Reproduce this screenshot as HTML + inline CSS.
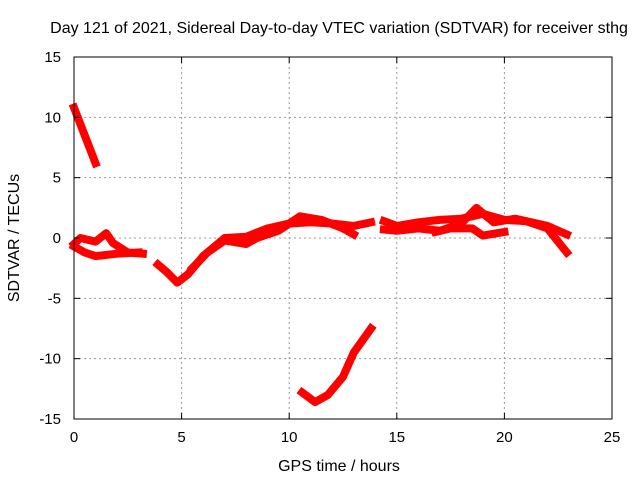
<!DOCTYPE html>
<html><head><meta charset="utf-8"><style>
body{margin:0;background:#fff}
svg{display:block;font-family:"Liberation Sans",sans-serif}
</style></head><body>
<svg id="chart" width="640" height="480">
<rect width="640" height="480" fill="#fff"/>
<text x="339" y="33" font-size="16" text-anchor="middle">Day 121 of 2021, Sidereal Day-to-day VTEC variation (SDTVAR) for receiver sthg</text>
<g id="grid"></g><g id="series"></g><g id="axes"></g>
<text x="339" y="471" font-size="16" text-anchor="middle">GPS time / hours</text>
<text transform="translate(19,238) rotate(-90)" font-size="16" text-anchor="middle">SDTVAR / TECUs</text>
</svg>
<script>
const xTicks=[0,5,10,15,20,25];
const yTicks=[15,10,5,0,-5,-10,-15];
const trackA=[[0,10.8],[0.5,8.5],[1.0,6.2]];
const trackB=[[0,-0.5],[0.3,0],[1,-0.3],[1.5,0.4],[1.8,-0.4],[2.5,-1.2],[3.2,-1.3]];
const trackB2=[[0,-0.7],[0.5,-1.2],[1,-1.5],[2,-1.3],[3,-1.2]];
const trackC=[[3.9,-2.2],[4.3,-2.8],[4.8,-3.7],[5.3,-3],[6,-1.5],[7,0],[8,0.1],[9,0.8],[10,1.2],[11,1.3],[12,1.2],[13,1],[13.8,1.3]];
const trackC2=[[5.5,-2.5],[6.2,-1.2],[7,-0.2],[8,-0.5],[8.5,0],[9.5,0.6],[10.5,1.8],[11.5,1.5],[12.5,0.8],[13,0.3]];
const trackD=[[10.6,-12.8],[11.2,-13.6],[11.8,-13],[12.5,-11.5],[13,-9.5],[13.8,-7.5]];
const trackE=[[14.4,1.4],[15,1],[16,1.3],[17,1.5],[18,1.6],[19,2],[20,1.5],[21,1.4],[22,0.8],[22.9,-1.2]];
const trackE2=[[14.4,0.7],[15,0.6],[16,0.8],[17,0.6],[18,1.2],[18.7,2.5],[19.5,1.3],[20.5,1.6],[22,1],[22.9,0.3]];
const trackE3=[[16.8,0.5],[17.5,0.8],[18.5,0.8],[19,0.2],[20,0.5]];
const tracks=[trackA,trackB,trackB2,trackC,trackC2,trackD,trackE,trackE2,trackE3];
const X0=74,X1=612,Y0=57,Y1=419;
const sx=v=>X0+(v-0)/25*(X1-X0);
const sy=v=>Y0+(15-v)/30*(Y1-Y0);
const NS="http://www.w3.org/2000/svg";
function mk(t,a,p){const e=document.createElementNS(NS,t);for(const k in a)e.setAttribute(k,a[k]);p.appendChild(e);return e;}
const grid=document.getElementById('grid'),axes=document.getElementById('axes'),ser=document.getElementById('series');
xTicks.forEach(t=>{
 if(t>0&&t<25){const l=mk('line',{x1:sx(t),x2:sx(t),y1:Y0,y2:Y1,stroke:'#999','stroke-dasharray':'2,3'},grid);
 
 }
 const tx=mk('text',{x:sx(t),y:Y1+23,'font-size':15,'text-anchor':'middle'},axes);tx.textContent=t;
 
 
 mk('line',{x1:sx(t),x2:sx(t),y1:Y1,y2:Y1-6,stroke:'#000'},axes);
 mk('line',{x1:sx(t),x2:sx(t),y1:Y0,y2:Y0+6,stroke:'#000'},axes);
});
yTicks.forEach(t=>{
 if(t<15&&t>-15){const l=mk('line',{x1:X0,x2:X1,y1:sy(t),y2:sy(t),stroke:'#999','stroke-dasharray':'2,3'},grid);
 
 }
 const tx=mk('text',{x:X0-13,y:sy(t)+5,'font-size':15,'text-anchor':'end'},axes);tx.textContent=t;
 
 
 mk('line',{x1:X0,x2:X0+6,y1:sy(t),y2:sy(t),stroke:'#000'},axes);
 mk('line',{x1:X1,x2:X1-6,y1:sy(t),y2:sy(t),stroke:'#000'},axes);
});
const fr=mk('rect',{x:X0,y:Y0,width:X1-X0,height:Y1-Y0,fill:'none',stroke:'#000'},axes);


tracks.forEach(tr=>{
 const p=mk('polyline',{points:tr.map(d=>sx(d[0])+','+sy(d[1])).join(' '),fill:'none',stroke:'#f00','stroke-width':8,'stroke-linejoin':'round','stroke-linecap':'square'},ser);
 
 
});
</script>
</body></html>
